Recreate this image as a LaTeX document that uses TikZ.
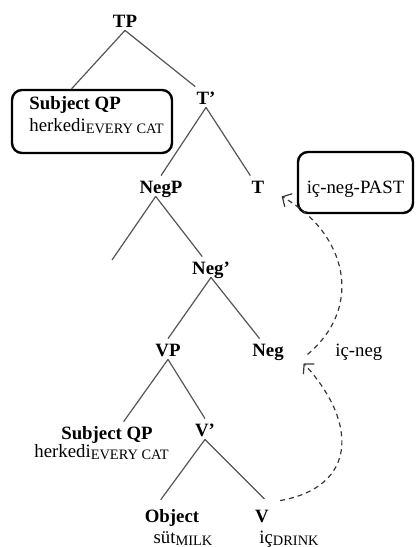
\documentclass[tikz,border=0pt]{standalone}
\usepackage{xcolor}
\usepackage{fontspec}
\setmainfont{Liberation Serif}
\usepackage{tikz}
\usetikzlibrary{positioning,arrows.meta,calc}

\definecolor{branchgray}{RGB}{85,85,85}
\definecolor{movegray}{RGB}{55,55,55}
\newcommand{\treesize}{\fontsize{9.4}{11.3}\selectfont}
\newcommand{\glosssub}[1]{\raisebox{-1.3pt}{\fontsize{7.2}{8}\selectfont #1}}

\begin{document}
\begin{tikzpicture}[
  x=0.5pt, y=-0.5pt,
  every node/.style={inner sep=0.5pt, text height=8pt, text depth=1pt, anchor=base},
  cat/.style={font=\treesize\bfseries},
  word/.style={font=\treesize},
  qpbox/.style={draw, line width=1.2pt, rounded corners=5pt, anchor=center, font=\treesize},
  branch/.style={draw=branchgray, line width=0.6pt},
  move/.style={draw=movegray, line width=0.6pt, dash pattern=on 2.5pt off 2pt, -{Straight Barb[length=3.5pt,width=7.5pt]}}
]
\useasboundingbox (0,0) rectangle (417,547);

\node[cat] (tp) at (125,27) {TP};
\node[qpbox, minimum width=80pt, minimum height=31.5pt] (subjbox) at (92,121.5) {};
\node[cat, anchor=base west] (subj) at (28,109) {Subject QP};
\node[word, anchor=base west] (subjword) at (28,131) {herkedi\glosssub{EVERY CAT}};
\node[cat] (tbar) at (206,104) {T’};
\node[cat] (negp) at (161,193) {NegP};
\node[cat] (t) at (258,193) {T};
\node[qpbox, minimum width=57.5pt, minimum height=30.5pt, text height=12pt, text depth=1.5pt] (past) at (355.5,182.5) {iç-neg-PAST};
\coordinate (negspec) at (112,260);
\node[cat] (negbar) at (211,274) {Neg’};
\node[cat] (vp) at (168,356) {VP};
\node[cat] (neg) at (268,356) {Neg};
\node[word, anchor=base west] (negword) at (334,356) {iç-neg};
\node[cat] (lsubj) at (107,439) {Subject QP};
\node[word, anchor=base west] (lsubjword) at (33,457) {herkedi\glosssub{EVERY CAT}};
\node[cat] (vbar) at (205,436) {V’};
\node[cat] (obj) at (172,522) {Object};
\node[word] (objword) at (183,543) {süt\glosssub{MILK}};
\node[cat] (v) at (262,522) {V};
\node[word, anchor=base west] (vword) at (258,543) {iç\glosssub{DRINK}};

\draw[branch] (tp.south) -- (subjbox.122);
\draw[branch] (tp.south) -- (tbar.north west);
\draw[branch] (tbar.south) -- (negp.north);
\draw[branch] (tbar.south) -- (t.north west);
\draw[branch] (negp.-117) -- (negspec);
\draw[branch] (negp.-117) -- (negbar.130);
\draw[branch] (negbar.south) -- (vp.north);
\draw[branch] (negbar.south) -- (neg.129);
\draw[branch] (vp.south) -- (lsubj.32);
\draw[branch] (vp.south) -- (vbar.north);
\draw[branch, shorten >=3pt] (vbar.south) -- (obj.145);
\draw[branch, shorten >=4pt] (vbar.south) -- (v.north east);

\draw[move] ($(v.north east)+(10,-4)$) .. controls +(78,-14) and +(54,58) .. ($(neg.south east)+(18.5,4)$);
\draw[move] ($(neg.south east)+(22.5,-5)$) .. controls +(57,-48) and +(65,37) .. ($(t.south east)+(16,0)$);
\end{tikzpicture}
\end{document}
